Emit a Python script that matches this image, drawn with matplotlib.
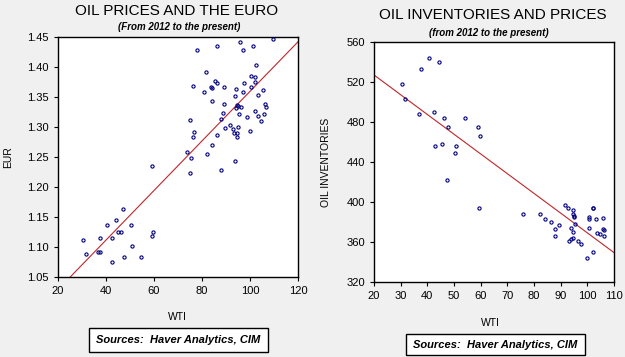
import matplotlib
matplotlib.use("Agg")
import matplotlib.pyplot as plt
import numpy as np
from matplotlib.patches import Rectangle

plt.rcParams['font.family'] = ['Liberation Sans', 'DejaVu Sans']

# ---- Left panel data: WTI vs EUR ----
wti_eur_x = [109.7, 78.1, 86.25, 95.8, 97.0, 101.1, 102.6, 81.7, 100.5, 102.1,
             85.5, 86.4, 97.6, 102.0, 76.1, 83.9, 84.1, 89.3, 100.4, 94.2,
             105.5, 81.0, 97.0, 103.3, 93.6, 84.3, 89.3, 94.7, 95.0, 106.3,
             106.7, 96.4, 94.3, 102.2, 88.9, 95.6, 106.0, 98.6, 103.2, 87.9,
             104.4, 75.0, 91.7, 92.8, 93.2, 94.9, 89.6, 94.6, 94.6, 76.8,
             76.1, 86.25, 100.0, 84.2, 82.2, 73.6, 75.5, 93.9, 59.0, 75.1,
             87.8, 47.2, 44.2, 40.4, 50.5, 30.6, 37.6, 42.6, 45.0, 46.1,
             59.6, 59.0, 31.7, 36.8, 37.3, 50.8, 47.6, 54.4, 42.6]
wti_eur_y = [1.447, 1.428, 1.4345, 1.441, 1.429, 1.4345, 1.404, 1.392, 1.3845, 1.383,
             1.376, 1.374, 1.373, 1.375, 1.369, 1.367, 1.365, 1.367, 1.367, 1.363,
             1.361, 1.359, 1.358, 1.354, 1.351, 1.344, 1.339, 1.337, 1.335, 1.338,
             1.334, 1.333, 1.332, 1.326, 1.324, 1.321, 1.322, 1.317, 1.318, 1.314,
             1.310, 1.312, 1.304, 1.297, 1.290, 1.300, 1.298, 1.290, 1.284, 1.292,
             1.283, 1.286, 1.293, 1.2695, 1.2555, 1.258, 1.249, 1.243, 1.235, 1.224,
             1.229, 1.1628, 1.145, 1.1367, 1.1367, 1.111, 1.1155, 1.1155, 1.1245, 1.1245,
             1.125, 1.118, 1.088, 1.091, 1.091, 1.101, 1.084, 1.084, 1.0745]
eur_fit_x = [25.1, 120.0]
eur_fit_y = [1.05, 1.442]

# ---- Right panel data: WTI vs oil inventories ----
wti_inv_x = [30.5, 31.75, 37.75, 40.75, 44.4, 37.0, 42.6, 46.25, 54.25, 47.6,
             59.1, 59.9, 42.9, 45.5, 50.9, 50.5, 47.5, 59.4, 75.8, 82.25,
             84.25, 86.5, 89.3, 87.9, 87.9, 91.7, 92.75, 94.6, 94.5, 94.9,
             95.1, 93.9, 94.5, 95.5, 93.1, 93.7, 94.75, 96.4, 97.5, 100.0,
             102.0, 100.5, 100.6, 100.75, 102.1, 102.3, 103.1, 103.6, 104.75, 105.75,
             106.0, 106.1, 106.25]
wti_inv_y = [518.4, 503.4, 532.7, 544.0, 540.4, 487.7, 490.0, 483.7, 483.7, 475.4,
             475.4, 466.4, 456.0, 458.4, 456.0, 448.7, 422.0, 394.4, 388.4, 388.4,
             382.7, 380.0, 376.7, 373.4, 366.4, 397.0, 394.0, 392.4, 388.0, 386.0,
             385.0, 374.4, 370.4, 378.4, 361.4, 362.7, 364.0, 361.4, 357.7, 344.4,
             349.7, 383.0, 384.5, 374.0, 393.7, 394.4, 383.4, 369.4, 368.4, 384.4,
             372.7, 371.7, 366.4]
inv_fit_x = [20.0, 110.0]
inv_fit_y = [527.0, 349.4]

left_xticks = [20, 40, 60, 80, 100, 120]
left_yticks = [1.05, 1.10, 1.15, 1.20, 1.25, 1.30, 1.35, 1.40, 1.45]
right_xticks = [20, 30, 40, 50, 60, 70, 80, 90, 100, 110]
right_yticks = [320, 360, 400, 440, 480, 520, 560]

W, H = 625, 357
fig = plt.figure(figsize=(W / 100, H / 100), dpi=100)
fig.patch.set_facecolor('#f0f0f0')

def fx(px):
    return px / W

def fy(py):
    return 1 - py / H

ax1 = fig.add_axes([fx(58), fy(277), 240 / W, 240 / H])
ax2 = fig.add_axes([fx(374), fy(282), 240 / W, 240 / H])

navy = '#000080'
red = '#c0262a'

for ax, xs, ys, fxv, fyv in [(ax1, wti_eur_x, wti_eur_y, eur_fit_x, eur_fit_y),
                             (ax2, wti_inv_x, wti_inv_y, inv_fit_x, inv_fit_y)]:
    ax.set_facecolor('white')
    ax.plot(fxv, fyv, color=red, lw=0.8, zorder=2)
    ax.plot(xs, ys, linestyle='none', marker='o', markersize=2.3,
            markerfacecolor='none', markeredgecolor=navy, markeredgewidth=0.8, zorder=3)
    for s in ax.spines.values():
        s.set_color('black')
        s.set_linewidth(1.0)
    ax.tick_params(direction='out', length=3, width=0.8, labelsize=8, colors='black',
                   top=False, right=False)

ax1.set_xlim(20, 120)
ax1.set_ylim(1.05, 1.45)
ax1.set_xticks(left_xticks)
ax1.set_yticks(left_yticks)
ax1.set_yticklabels([f"{v:.2f}" for v in left_yticks])

ax2.set_xlim(20, 110)
ax2.set_ylim(320, 560)
ax2.set_xticks(right_xticks)
ax2.set_yticks(right_yticks)

# Titles
fig.text(fx(177), fy(11), "OIL PRICES AND THE EURO", ha='center', va='center', fontsize=11)
fig.text(fx(179), fy(27), "(From 2012 to the present)", ha='center', va='center',
         fontsize=7, fontweight='bold', style='italic')
fig.text(fx(493), fy(15), "OIL INVENTORIES AND PRICES", ha='center', va='center', fontsize=11)
fig.text(fx(489), fy(33), "(from 2012 to the present)", ha='center', va='center',
         fontsize=7, fontweight='bold', style='italic')

# Axis labels
fig.text(fx(8), fy(157), "EUR", ha='center', va='center', rotation=90, fontsize=7.5)
fig.text(fx(326), fy(162), "OIL INVENTORIES", ha='center', va='center', rotation=90, fontsize=7.5)
fig.text(fx(177), fy(317), "WTI", ha='center', va='center', fontsize=7.5)
fig.text(fx(490), fy(323), "WTI", ha='center', va='center', fontsize=7.5)

# Sources boxes
for (x0, y0, x1, y1) in [(89, 328, 268, 352), (406, 334, 585, 355)]:
    fig.patches.append(Rectangle((fx(x0), fy(y1)), (x1 - x0) / W, (y1 - y0) / H,
                                 transform=fig.transFigure, facecolor='white',
                                 edgecolor='black', linewidth=1.0))
    fig.text(fx((x0 + x1) / 2), fy((y0 + y1) / 2), "Sources:  Haver Analytics, CIM",
             ha='center', va='center', fontsize=8, fontweight='bold', style='italic')

fig.savefig('out.png', dpi=100, facecolor=fig.get_facecolor())
